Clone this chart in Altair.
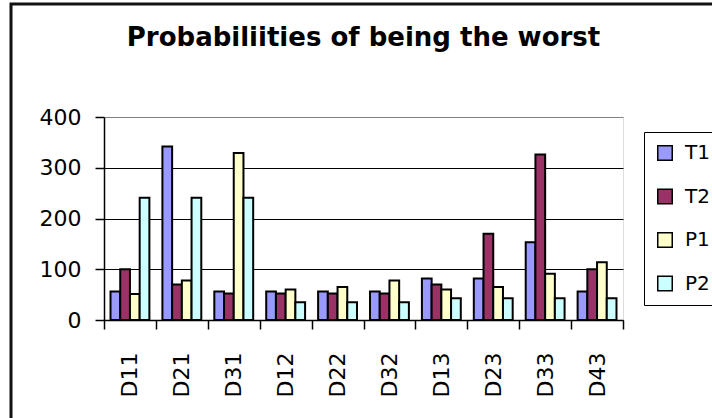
import altair as alt
import pandas as pd

categories = ["D11", "D21", "D31", "D12", "D22", "D32", "D13", "D23", "D33", "D43"]
series_names = ["T1", "T2", "P1", "P2"]
t1 = [56, 342, 56, 56, 56, 56, 82, 82, 153, 56]
t2 = [100, 70, 52, 52, 52, 52, 70, 170, 326, 100]
p1 = [51, 78, 329, 60, 65, 78, 60, 65, 91, 114]
p2 = [241, 241, 241, 35, 35, 35, 43, 43, 43, 43]
colors = ["#9999FF", "#993366", "#FFFFCC", "#CCFFFF"]
y_ticks = [0, 100, 200, 300, 400]

rows = []
for name, vals in zip(series_names, [t1, t2, p1, p2]):
    for c, v in zip(categories, vals):
        rows.append({"cat": c, "series": name, "value": v})
df = pd.DataFrame(rows)

FONT = "DejaVu Sans"

bars = alt.Chart(df).mark_bar(stroke="black", strokeWidth=2).encode(
    x=alt.X(
        "cat:N", sort=categories, title=None,
        scale=alt.Scale(paddingInner=0, paddingOuter=0),
        axis=alt.Axis(
            labelAngle=-90, tickBand="extent", labelFont=FONT, labelFontSize=22,
            labelColor="black", labelPadding=23, tickSize=9, tickColor="black",
            tickWidth=1.5, domainColor="black", domainWidth=1.5, grid=False,
        ),
    ),
    xOffset=alt.XOffset(
        "series:N", sort=series_names,
        scale=alt.Scale(paddingInner=0, paddingOuter=0.67),
    ),
    y=alt.Y(
        "value:Q", title=None,
        scale=alt.Scale(domain=[0, 400], nice=False),
        axis=alt.Axis(
            values=y_ticks, labelFont=FONT, labelFontSize=22, labelColor="black",
            labelPadding=14, tickSize=9, tickColor="black", tickWidth=1.5,
            domainColor="black", domainWidth=1.5, grid=True,
            gridColor={"condition": {"test": "datum.value === 400", "value": "#808080"}, "value": "black"},
            gridWidth=1.2,
        ),
    ),
    color=alt.Color(
        "series:N", sort=series_names,
        scale=alt.Scale(domain=series_names, range=colors),
        legend=alt.Legend(
            title=None, orient="none", legendX=540, legendY=15,
            fillColor="white", strokeColor="black", padding=11,
            symbolType="square", symbolSize=210, symbolStrokeColor="black",
            symbolStrokeWidth=1.5, symbolOpacity=1, labelFont=FONT,
            labelFontSize=20, labelColor="black", labelOffset=10, rowPadding=21.5,
        ),
    ),
)

frame = alt.Chart(pd.DataFrame({"k": [0]})).mark_rect(
    fillOpacity=0, stroke="#111111", strokeWidth=3
).encode(
    x=alt.value(-93), x2=alt.value(700), y=alt.value(-113), y2=alt.value(400)
)

chart = alt.layer(frame, bars).properties(
    width=519,
    height=203,
    autosize="none",
    padding={"left": 104, "top": 117, "right": 89, "bottom": 98},
    title=alt.TitleParams(
        "Probabiliities of being the worst", font=FONT, fontSize=26,
        fontWeight="bold", color="black", anchor="middle", frame="group",
        baseline="alphabetic", offset=0, dy=69,
    ),
).configure_view(fill="#C0C0C0", stroke="#808080", strokeWidth=1.5).configure(
    background="white"
)

chart.save("out.html", embed_options={"renderer": "svg", "actions": False})
